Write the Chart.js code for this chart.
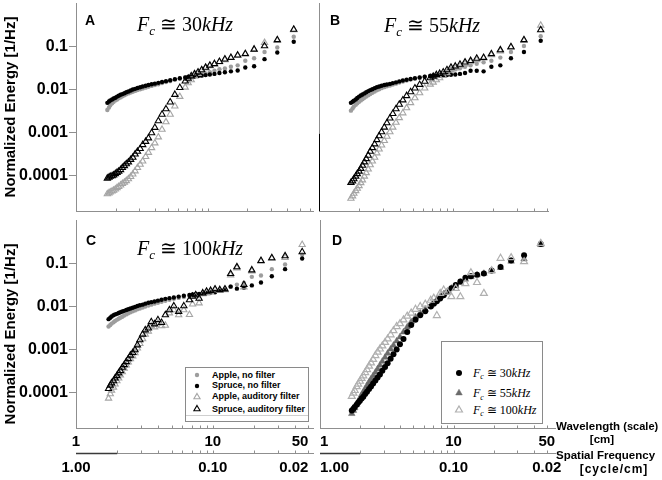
<!DOCTYPE html>
<html>
<head>
<meta charset="utf-8">
<title>Normalized energy vs wavelength</title>
<script src="https://cdn.jsdelivr.net/npm/chart.js@4.4.1/dist/chart.umd.min.js"></script>
<style>
  html, body { margin: 0; padding: 0; background: #fff; }
  #fig { position: relative; width: 662px; height: 480px; overflow: hidden;
         font-family: "Liberation Sans", Arial, sans-serif; color: #000; }
  #fig canvas { position: absolute; left: 0; top: 0; }
  .t { position: absolute; white-space: nowrap; line-height: 1; }
  .letter { font-weight: bold; font-size: 14px; }
  .fc { font-family: "Liberation Serif", "Times New Roman", serif; font-size: 20px; }
  .fc sub, .lgd-d sub { font-size: 0.65em; position: relative; top: 0.3em; vertical-align: baseline; line-height: 0; }
  .ytitle { font-weight: bold; font-size: 15px; transform: translate(-50%, -50%) rotate(-90deg); }
  .axt { font-weight: bold; font-size: 11.5px; }
  .box { position: absolute; border: 1px solid #8a8a8a; background: #fff; }
  .lgd-c { font-weight: bold; font-size: 9px; }
  .lgd-d { font-family: "Liberation Serif", "Times New Roman", serif; font-size: 12px; }
  svg.mk { position: absolute; overflow: visible; }
</style>
</head>
<body>
<div id="fig">
  <canvas id="panelA" width="662" height="480"></canvas>
  <canvas id="panelB" width="662" height="480"></canvas>
  <canvas id="panelC" width="662" height="480"></canvas>
  <canvas id="panelD" width="662" height="480"></canvas>

  <div class="t letter" style="left:85px;top:13px">A</div>
  <div class="t letter" style="left:330px;top:13px">B</div>
  <div class="t letter" style="left:86px;top:233px">C</div>
  <div class="t letter" style="left:332px;top:233px">D</div>

  <div class="t fc" style="left:137px;top:14px"><i>F</i><sub><i>c</i></sub> &#8773; 30<i>kHz</i></div>
  <div class="t fc" style="left:384px;top:15px"><i>F</i><sub><i>c</i></sub> &#8773; 55<i>kHz</i></div>
  <div class="t fc" style="left:137px;top:238px"><i>F</i><sub><i>c</i></sub> &#8773; 100<i>kHz</i></div>

  <div class="t ytitle" style="left:9px;top:107px">Normalized Energy [1/Hz]</div>
  <div class="t ytitle" style="left:9px;top:334px">Normalized Energy [1/Hz]</div>

  <div class="t axt" style="left:556px;top:421px">Wavelength <span style="font-size:11px">(scale)</span></div>
  <div class="t axt" style="left:602px;top:434px;transform:translateX(-50%)">[cm]</div>
  <div class="t axt" style="left:556px;top:450px">Spatial Frequency</div>
  <div class="t axt" style="left:614px;top:463px;transform:translateX(-50%);font-size:12px;letter-spacing:1px">[cycle/cm]</div>

  <div class="box" style="left:185px;top:367px;width:122px;height:53px"></div>
  <div style="position:absolute;left:186px;top:415px;width:122px;height:1px;background:#cfcfcf"></div>
  <div class="box" style="left:441px;top:341px;width:100px;height:81px"></div>
  <div id="legends"></div>
</div>

<script>
// wavelength of each spectral bin [cm]
const wavelength = [45, 33.75, 27, 22.5, 19.29, 16.88, 15, 13.5, 12.27, 11.25, 10.38, 9.64, 9, 8.44, 7.94, 7.5, 7.11, 6.75,
  6.14, 5.63, 5.19, 4.82, 4.5, 4.22, 3.97, 3.75, 3.55, 3.38,
  3.21, 3.07, 2.93, 2.81, 2.7, 2.6, 2.5, 2.41, 2.33, 2.25, 2.18, 2.11, 2.05, 1.99, 1.93, 1.88, 1.82, 1.78, 1.73];

const energyTicks = [0.1, 0.01, 0.001, 0.0001];
const energyLabels = ['0.1', '0.01', '0.001', '0.0001'];
const wavelengthTicks = [1, 10, 50];
const wavelengthLabels = ['1', '10', '50'];
const frequencyLabels = ['1.00', '0.10', '0.02'];
const minorTicks = [2, 3, 4, 5, 6, 7, 8, 9, 10, 20, 30, 40, 50, 60];

// A: Fc ~ 30 kHz
const aAppleNoFilter = [0.172, 0.097, 0.076, 0.0546, 0.0477, 0.0373, 0.0345, 0.0317, 0.0302, 0.028, 0.026, 0.024, 0.0225, 0.0215, 0.021, 0.0205, 0.02, 0.0195,
  0.0183, 0.0172, 0.016, 0.0152, 0.0144, 0.0136, 0.013, 0.0124, 0.0118, 0.0113,
  0.0108, 0.0104, 0.0099, 0.0095, 0.0091, 0.0087, 0.0083, 0.0079, 0.0075, 0.0071, 0.0067, 0.0064, 0.006, 0.0057, 0.0053, 0.0049, 0.0044, 0.0039, 0.0034];
const aSpruceNoFilter = [0.132, 0.0744, 0.0519, 0.0355, 0.0333, 0.0283, 0.027, 0.0257, 0.0248, 0.0236, 0.0228, 0.0221, 0.0215, 0.021, 0.0206, 0.0202, 0.0199, 0.0195,
  0.0187, 0.0178, 0.0168, 0.016, 0.0153, 0.0146, 0.014, 0.0135, 0.013, 0.0125,
  0.012, 0.0115, 0.0111, 0.0106, 0.0102, 0.0097, 0.0092, 0.0088, 0.0084, 0.008, 0.0077, 0.0073, 0.007, 0.0066, 0.0063, 0.006, 0.0057, 0.0054, 0.005];
const aAppleAuditory = [0.25, 0.14, 0.125, 0.087, 0.07, 0.063, 0.056, 0.05, 0.045, 0.04, 0.036, 0.032, 0.028, 0.024, 0.021, 0.017, 0.0145, 0.0115,
  0.007, 0.0042, 0.0027, 0.0018, 0.0012, 0.0008, 0.00058, 0.00045, 0.00035, 0.00028,
  0.00022, 0.000185, 0.000155, 0.00013, 0.00011, 0.000096, 0.000085, 0.000077, 0.000071, 0.000066, 0.000061, 0.000056, 0.000053, 0.000049, 0.000046, 0.000044, 0.000042, 0.00004, 0.000038];
const aSpruceAuditory = [0.255, 0.146, 0.105, 0.088, 0.069, 0.064, 0.0565, 0.0519, 0.0454, 0.0405, 0.0373, 0.0333, 0.0292, 0.026, 0.0235, 0.021, 0.0185, 0.016,
  0.0113, 0.0078, 0.0052, 0.0036, 0.0027, 0.0019, 0.00133, 0.001, 0.00076, 0.00063,
  0.00053, 0.00043, 0.00037, 0.00032, 0.00027, 0.00024, 0.00021, 0.00019, 0.000172, 0.000155, 0.000139, 0.000128, 0.00012, 0.000112, 0.000104, 0.0001, 0.000097, 0.000092, 0.000088];

// B: Fc ~ 55 kHz
const bAppleNoFilter = [0.178, 0.105, 0.076, 0.0565, 0.0478, 0.0441, 0.0405, 0.0373, 0.0345, 0.032, 0.03, 0.028, 0.0265, 0.025, 0.024, 0.023, 0.0222, 0.0214,
  0.0202, 0.0192, 0.0183, 0.0174, 0.0165, 0.0156, 0.0148, 0.014, 0.0133, 0.0127,
  0.0121, 0.0116, 0.011, 0.0104, 0.0098, 0.0092, 0.0086, 0.008, 0.0075, 0.007, 0.0066, 0.0061, 0.0057, 0.0053, 0.0049, 0.0045, 0.0041, 0.0037, 0.0033];
const bSpruceNoFilter = [0.139, 0.076, 0.0546, 0.0373, 0.0345, 0.027, 0.028, 0.028, 0.0248, 0.0236, 0.0228, 0.0225, 0.0222, 0.022, 0.0218, 0.0215, 0.0212, 0.021,
  0.0203, 0.0195, 0.0187, 0.018, 0.0173, 0.0165, 0.0158, 0.015, 0.0144, 0.0138,
  0.0134, 0.013, 0.0125, 0.012, 0.0116, 0.011, 0.0104, 0.0099, 0.0094, 0.0088, 0.0083, 0.0078, 0.0074, 0.007, 0.0065, 0.006, 0.0056, 0.0053, 0.005];
const bAppleAuditory = [0.317, 0.14, 0.098, 0.08, 0.065, 0.055, 0.05, 0.045, 0.04, 0.036, 0.032, 0.029, 0.025, 0.0215, 0.019, 0.017, 0.015, 0.0135,
  0.011, 0.0085, 0.0065, 0.005, 0.0038, 0.0029, 0.00225, 0.00175, 0.00135, 0.00105,
  0.00083, 0.00066, 0.00052, 0.00042, 0.00034, 0.00027, 0.00022, 0.00018, 0.000143, 0.000118, 0.000098, 0.00008, 0.000069, 0.000059, 0.000051, 0.000045, 0.000039, 0.000034, 0.00003];
const bSpruceAuditory = [0.248, 0.146, 0.1, 0.085, 0.069, 0.0565, 0.054, 0.0478, 0.0441, 0.0392, 0.0355, 0.0333, 0.0292, 0.026, 0.024, 0.0225, 0.0205, 0.019,
  0.0158, 0.0133, 0.011, 0.009, 0.0073, 0.0058, 0.0046, 0.0036, 0.0028, 0.0022,
  0.0017, 0.00135, 0.00105, 0.00085, 0.00069, 0.00055, 0.00045, 0.00037, 0.0003, 0.00025, 0.00021, 0.000175, 0.000148, 0.000128, 0.000112, 0.000098, 0.000085, 0.000076, 0.00007];

// C: Fc ~ 100 kHz
const cAppleNoFilter = [0.165, 0.097, 0.0755, 0.054, 0.05, 0.036, 0.033, 0.03, 0.027, 0.025, 0.023, 0.022, 0.021, 0.02, 0.0195, 0.019, 0.0185, 0.018,
  0.017, 0.0162, 0.0154, 0.0146, 0.0139, 0.0132, 0.0125, 0.0119, 0.0113, 0.0108,
  0.0102, 0.0097, 0.0092, 0.0088, 0.0083, 0.0079, 0.0075, 0.0071, 0.0067, 0.0063, 0.0059, 0.0056, 0.0053, 0.005, 0.0047, 0.0044, 0.0041, 0.0038, 0.0035];
const cSpruceNoFilter = [0.134, 0.0755, 0.0517, 0.037, 0.0317, 0.028, 0.0266, 0.0296, 0.0252, 0.0236, 0.022, 0.0216, 0.021, 0.0206, 0.02, 0.0198, 0.0194, 0.019,
  0.0182, 0.0174, 0.0166, 0.016, 0.0154, 0.0147, 0.014, 0.0134, 0.0129, 0.0125,
  0.0119, 0.0113, 0.0109, 0.0105, 0.01, 0.0096, 0.0092, 0.0088, 0.0085, 0.0081, 0.0078, 0.0075, 0.0072, 0.0069, 0.0067, 0.0064, 0.006, 0.0056, 0.0052];
const cAppleAuditory = [0.28, 0.14, 0.135, 0.115, 0.068, 0.029, 0.08, 0.055, 0.025, 0.024, 0.025, 0.022, 0.021, 0.02, 0.0123, 0.018, 0.0116, 0.0066,
  0.0085, 0.0065, 0.0085, 0.0072, 0.0037, 0.0036, 0.0042, 0.0034, 0.0036, 0.0027,
  0.0023, 0.0018, 0.0014, 0.0011, 0.00085, 0.00072, 0.00062, 0.00052, 0.00044, 0.00037, 0.00031, 0.00026, 0.00022, 0.00019, 0.00016, 0.000135, 0.000115, 0.000095, 0.000075];
const cSpruceAuditory = [0.19, 0.153, 0.138, 0.119, 0.072, 0.033, 0.085, 0.059, 0.026, 0.025, 0.026, 0.024, 0.023, 0.021, 0.0158, 0.019, 0.0175, 0.0145,
  0.0105, 0.0078, 0.0105, 0.0085, 0.0065, 0.0043, 0.005, 0.004, 0.0045, 0.0032,
  0.0029, 0.0023, 0.0017, 0.0013, 0.001, 0.00086, 0.00075, 0.00062, 0.00053, 0.00045, 0.00039, 0.00033, 0.00029, 0.00025, 0.00022, 0.00019, 0.00017, 0.00015, 0.000125];

// D: auditory filter, by cut-off frequency
const dFc30 = [0.29, 0.158, 0.12, 0.085, 0.07, 0.06, 0.056, 0.052, 0.0474, 0.039, 0.0324, 0.027, 0.0224, 0.0188, 0.0158, 0.0136, 0.0118, 0.0102,
  0.0079, 0.0064, 0.005, 0.0038, 0.0026, 0.0018, 0.00136, 0.00103, 0.00079, 0.00062,
  0.00049, 0.0004, 0.00033, 0.00027, 0.00023, 0.000195, 0.000165, 0.000141, 0.000123, 0.000106, 0.000094, 0.000082, 0.000074, 0.000066, 0.000059, 0.000053, 0.000047, 0.000043, 0.000039];
const dFc55 = [0.28, 0.13, 0.115, 0.082, 0.068, 0.06, 0.055, 0.05, 0.044, 0.037, 0.031, 0.027, 0.023, 0.02, 0.0173, 0.0146, 0.0123, 0.0105,
  0.0088, 0.0072, 0.0058, 0.0045, 0.0034, 0.0026, 0.002, 0.0016, 0.00128, 0.00104,
  0.00083, 0.00067, 0.00054, 0.00044, 0.00036, 0.0003, 0.00025, 0.00021, 0.000178, 0.000148, 0.000125, 0.000105, 0.00009, 0.000075, 0.000063, 0.000054, 0.000045, 0.000039, 0.000033];
const dFc100 = [0.3, 0.113, 0.14, 0.135, 0.07, 0.0207, 0.037, 0.0625, 0.035, 0.0173, 0.027, 0.0173, 0.022, 0.0247, 0.0207, 0.0063, 0.016, 0.0143,
  0.0116, 0.0102, 0.0088, 0.0072, 0.0061, 0.005, 0.0041, 0.0035, 0.0028, 0.00225,
  0.0018, 0.0015, 0.00124, 0.00105, 0.00089, 0.00074, 0.0006, 0.0005, 0.00042, 0.00035, 0.000298, 0.00025, 0.000217, 0.000187, 0.00016, 0.00014, 0.000114, 0.000099, 0.000083];

Chart.defaults.font.family = 'Liberation Sans';
const axisColor = '#8f8f8f';

const looks = {
  appleNoFilter:  { pointStyle: 'circle',   pointRadius: 2.2, pointBackgroundColor: '#9d9d9d', pointBorderColor: '#9d9d9d', pointBorderWidth: 0 },
  spruceNoFilter: { pointStyle: 'circle',   pointRadius: 2.2, pointBackgroundColor: '#000',    pointBorderColor: '#000',    pointBorderWidth: 0 },
  appleAuditory:  { pointStyle: 'triangle', pointRadius: 3.6, pointBackgroundColor: 'rgba(0,0,0,0)', pointBorderColor: '#a5a5a5', pointBorderWidth: 1.1 },
  spruceAuditory: { pointStyle: 'triangle', pointRadius: 3.6, pointBackgroundColor: 'rgba(0,0,0,0)', pointBorderColor: '#000',    pointBorderWidth: 1.1 },
  fc30:  { pointStyle: 'circle',   pointRadius: 3,   pointBackgroundColor: '#000',    pointBorderColor: '#000',    pointBorderWidth: 0 },
  fc55:  { pointStyle: 'triangle', pointRadius: 3.8, pointBackgroundColor: '#6b6b6b', pointBorderColor: '#6b6b6b', pointBorderWidth: 0.5 },
  fc100: { pointStyle: 'triangle', pointRadius: 4,   pointBackgroundColor: 'rgba(0,0,0,0)', pointBorderColor: '#b0b0b0', pointBorderWidth: 1.2 }
};

function series(label, values, look) {
  return Object.assign({
    label: label,
    data: wavelength.map((w, i) => ({ x: w, y: values[i] }))
  }, looks[look]);
}

function fixSize(prop, size) {
  return function (scale) {
    scale[prop] = size;
    scale.paddingLeft = scale.paddingRight = scale.paddingTop = scale.paddingBottom = 0;
  };
}

function makePanel(id, area, xMax, datasets, opts) {
  const yW = opts.yLabels ? 60 : 0;
  const xH = opts.labelAlign ? 25 : 0;
  const fH = opts.labelAlign ? 27 : 0;

  const scales = {
    x: {
      type: 'logarithmic', position: 'bottom', weight: 1, min: 1, max: xMax,
      afterBuildTicks: s => { s.ticks = wavelengthTicks.map(v => ({ value: v })); },
      afterFit: fixSize('height', xH),
      grid: { display: false, drawTicks: false },
      border: { display: true, color: axisColor, width: 1 },
      ticks: { display: false }
    },
    y: {
      type: 'logarithmic', position: 'left', min: 1.53e-5, max: 1.05,
      afterBuildTicks: s => { s.ticks = energyTicks.map(v => ({ value: v })); },
      afterFit: fixSize('width', yW),
      grid: { display: !!opts.yLabels, drawOnChartArea: false, drawTicks: !!opts.yLabels, tickLength: 7, color: axisColor },
      border: { display: true, color: axisColor, width: 1 },
      ticks: { display: !!opts.yLabels, padding: 1, color: '#000',
               font: { family: 'Liberation Sans', size: 16, weight: 'bold' },
               callback: (v, i) => energyLabels[i] }
    }
  };
  if (opts.labelAlign) {
    // spatial frequency = 1 / wavelength, sharing the wavelength scale
    scales.x2 = {
      type: 'logarithmic', position: 'bottom', weight: 2, min: 1, max: xMax,
      afterBuildTicks: s => { s.ticks = wavelengthTicks.map(v => ({ value: v })); },
      afterFit: fixSize('height', fH),
      grid: { display: false, drawTicks: false },
      border: { display: true, color: axisColor, width: 1 },
      ticks: { display: false }
    };
  }

  const extras = {
    id: 'axisExtras',
    afterDraw(chart) {
      const ctx = chart.ctx;
      const ca = chart.chartArea;
      ctx.save();
      ctx.lineWidth = 1;
      ctx.strokeStyle = axisColor;
      ctx.beginPath();
      ['x', 'x2'].forEach(key => {
        const s = chart.scales[key];
        if (!s) return;
        const y0 = Math.round(s.top) + 0.5;
        minorTicks.filter(v => v < s.max).forEach(v => {
          const px = Math.round(s.getPixelForValue(v)) + 0.5;
          ctx.moveTo(px, y0 - 3);
          ctx.lineTo(px, y0);
        });
        if (opts.extendTo) {
          ctx.moveTo(s.right, y0);
          ctx.lineTo(opts.extendTo, y0);
        }
      });
      ctx.stroke();

      if (chart.scales.x2) {
        const s = chart.scales.x2;
        const y0 = Math.round(s.top) + 0.5;
        ctx.strokeStyle = '#3a3a3a';
        ctx.lineWidth = 1.5;
        ctx.beginPath();
        ctx.moveTo(s.getPixelForValue(1), y0);
        ctx.lineTo(s.getPixelForValue(2), y0);
        ctx.stroke();
      }

      // tick labels of the two bottom axes, placed on the scale positions
      if (opts.labelAlign) {
        ctx.fillStyle = '#000';
        ctx.font = 'bold 15px "Liberation Sans"';
        ctx.textBaseline = 'middle';
        [['x', wavelengthLabels, 5], ['x2', frequencyLabels, 6]].forEach(([key, labels, pad]) => {
          const s = chart.scales[key];
          wavelengthTicks.forEach((v, i) => {
            ctx.textAlign = opts.labelAlign[i];
            ctx.fillText(labels[i], s.getPixelForValue(v), s.top + pad + 9);
          });
        });
      }

      if (opts.darkAxisBelow) {
        const x = Math.round(ca.left) + 0.5;
        ctx.strokeStyle = '#000';
        ctx.lineWidth = 1;
        ctx.beginPath();
        ctx.moveTo(x, chart.scales.y.getPixelForValue(opts.darkAxisBelow));
        ctx.lineTo(x, ca.bottom);
        ctx.stroke();
      }
      ctx.restore();
    }
  };

  return new Chart(document.getElementById(id), {
    type: 'scatter',
    data: { datasets: datasets },
    options: {
      responsive: false,
      animation: false,
      devicePixelRatio: 1,
      events: [],
      layout: {
        autoPadding: false,
        padding: { left: area.left - yW, top: area.top, right: 662 - area.right, bottom: 480 - area.bottom - xH - fH }
      },
      plugins: { legend: { display: false }, tooltip: { enabled: false } },
      scales: scales
    },
    plugins: [extras]
  });
}

// first dataset is drawn on top
makePanel('panelA', { left: 76, top: 3, right: 313, bottom: 211 }, 63, [
  series('Spruce, auditory filter', aSpruceAuditory, 'spruceAuditory'),
  series('Apple, auditory filter', aAppleAuditory, 'appleAuditory'),
  series('Spruce, no filter', aSpruceNoFilter, 'spruceNoFilter'),
  series('Apple, no filter', aAppleNoFilter, 'appleNoFilter')
], { yLabels: true });

makePanel('panelB', { left: 319, top: 3, right: 548, bottom: 211 }, 51, [
  series('Spruce, auditory filter', bSpruceAuditory, 'spruceAuditory'),
  series('Apple, auditory filter', bAppleAuditory, 'appleAuditory'),
  series('Spruce, no filter', bSpruceNoFilter, 'spruceNoFilter'),
  series('Apple, no filter', bAppleNoFilter, 'appleNoFilter')
], { darkAxisBelow: 9.5e-4 });

makePanel('panelC', { left: 76, top: 220, right: 313, bottom: 428 }, 54, [
  series('Spruce, auditory filter', cSpruceAuditory, 'spruceAuditory'),
  series('Apple, auditory filter', cAppleAuditory, 'appleAuditory'),
  series('Spruce, no filter', cSpruceNoFilter, 'spruceNoFilter'),
  series('Apple, no filter', cAppleNoFilter, 'appleNoFilter')
], { yLabels: true, labelAlign: ['center', 'center', 'right'] });

makePanel('panelD', { left: 320, top: 220, right: 548, bottom: 428 }, 51, [
  series('Fc 100kHz', dFc100, 'fc100'),
  series('Fc 30kHz', dFc30, 'fc30'),
  series('Fc 55kHz', dFc55, 'fc55')
], { labelAlign: ['left', 'center', 'center'], extendTo: 556 });

// legends (HTML, markers follow the dataset looks)
function marker(look, cx, cy) {
  const st = looks[look];
  const r = st.pointRadius;
  let shape;
  if (st.pointStyle === 'circle') {
    shape = '<circle cx="0" cy="0" r="' + r + '" fill="' + st.pointBackgroundColor + '"/>';
  } else {
    const pts = [[0, -r], [r * 0.866, r / 2], [-r * 0.866, r / 2]].map(p => p.join(',')).join(' ');
    shape = '<polygon points="' + pts + '" fill="' + st.pointBackgroundColor + '" stroke="' +
      st.pointBorderColor + '" stroke-width="' + st.pointBorderWidth + '"/>';
  }
  return '<svg class="mk" width="1" height="1" style="left:' + cx + 'px;top:' + cy + 'px">' + shape + '</svg>';
}

const legendC = [
  ['Apple, no filter', 'appleNoFilter', 375],
  ['Spruce, no filter', 'spruceNoFilter', 385.7],
  ['Apple, auditory filter', 'appleAuditory', 396.7],
  ['Spruce, auditory filter', 'spruceAuditory', 409]
];
const legendD = [
  ['30', 'fc30', 372.7],
  ['55', 'fc55', 393.3],
  ['100', 'fc100', 410]
];

let html = '';
legendC.forEach(([label, look, yc]) => {
  html += marker(look, 197, yc);
  html += '<div class="t lgd-c" style="left:212px;top:' + (yc - 4.4) + 'px">' + label + '</div>';
});
legendD.forEach(([fc, look, yc]) => {
  html += marker(look, 459, yc);
  html += '<div class="t lgd-d" style="left:473px;top:' + (yc - 6.1) + 'px"><i>F</i><sub><i>c</i></sub> &#8773; ' +
    fc + '<i>kHz</i></div>';
});
document.getElementById('legends').innerHTML = html;
</script>
</body>
</html>
